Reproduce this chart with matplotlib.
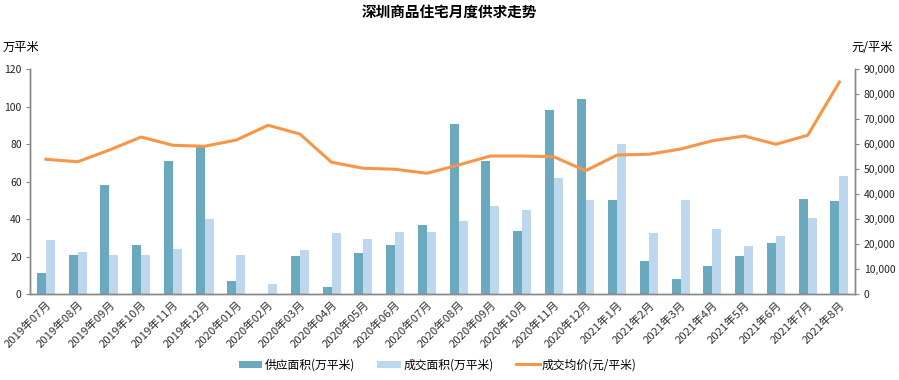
import matplotlib.pyplot as plt
from matplotlib.ticker import FuncFormatter
import numpy as np

plt.rcParams['font.family'] = ['Noto Sans CJK SC', 'DejaVu Sans']

# months on the x axis
months = ['2019年07月', '2019年08月', '2019年09月', '2019年10月', '2019年11月', '2019年12月',
          '2020年01月', '2020年02月', '2020年03月', '2020年04月', '2020年05月', '2020年06月',
          '2020年07月', '2020年08月', '2020年09月', '2020年10月', '2020年11月', '2020年12月',
          '2021年1月', '2021年2月', '2021年3月', '2021年4月', '2021年5月', '2021年6月',
          '2021年7月', '2021年8月']

# supply area (10k m2)
supply = [11.2, 20.8, 58.2, 26.2, 71, 79, 7, 0, 20.5, 3.5, 22, 26.3, 37, 90.7,
          71, 33.7, 98, 104, 50, 17.6, 8, 15, 20.4, 27.3, 50.8, 49.7]

# transaction area (10k m2)
deal = [28.8, 22.4, 20.9, 20.9, 24, 40, 20.9, 5.3, 23.5, 32.5, 29.4, 33.2, 33.2, 38.9,
        47, 44.8, 61.9, 50, 80, 32.5, 50, 34.8, 25.6, 30.7, 40.5, 63]

# average price (yuan/m2)
price = [53900, 52900, 57600, 62800, 59500, 59100, 61600, 67500, 64000, 52700, 50300, 49900,
         48300, 51600, 55200, 55200, 54900, 49300, 55600, 55900, 58000, 61300, 63200, 59900,
         63500, 84800]

c_supply = '#6BA9BF'
c_deal = '#BDD7EE'
c_price = '#F79646'

fig = plt.figure(figsize=(8.99, 3.80), dpi=100)
ax = fig.add_axes([0.0334, 0.2263, 0.918, 0.5921])
ax2 = ax.twinx()

x = np.arange(len(months))
w = 0.283
ax.bar(x - w / 2, supply, width=w, color=c_supply, label='供应面积(万平米)')
ax.bar(x + w / 2, deal, width=w, color=c_deal, label='成交面积(万平米)')
ax2.plot(x, price, color=c_price, lw=2.2, label='成交均价(元/平米)')

ax.set_xlim(-0.5, len(months) - 0.5)
ax.set_ylim(0, 120)
ax.set_yticks(range(0, 121, 20))
ax2.set_ylim(0, 90000)
ax2.set_yticks(range(0, 90001, 10000))
ax2.yaxis.set_major_formatter(FuncFormatter(lambda v, p: f'{int(v):,}'))

ax.set_xticks(x)
ax.set_xticklabels(months, rotation=45, ha='right', rotation_mode='anchor', fontsize=8.2, color='#333333')
ax.tick_params(axis='x', length=0, pad=4)
ax.tick_params(axis='y', labelsize=7.5, color='#888888', length=3, pad=3, labelcolor='#222222')
ax2.tick_params(axis='y', labelsize=7.5, color='#888888', length=3, pad=3, labelcolor='#222222')

for a in (ax, ax2):
    a.spines['top'].set_visible(False)
    for s in ('left', 'right', 'bottom'):
        a.spines[s].set_color('#888888')
        a.spines[s].set_linewidth(1)

fig.text(0.5, 0.968, '深圳商品住宅月度供求走势', ha='center', va='center', fontsize=10.5, fontweight='bold')
fig.text(0.003, 0.876, '万平米', ha='left', va='center', fontsize=8.8)
fig.text(0.993, 0.876, '元/平米', ha='right', va='center', fontsize=8.8)

h1, l1 = ax.get_legend_handles_labels()
h2, l2 = ax2.get_legend_handles_labels()
fig.legend(h1 + h2, l1 + l2, loc='center', bbox_to_anchor=(0.487, 0.04), ncol=3, frameon=False,
           fontsize=8.5, handlelength=2.0, handleheight=0.55, columnspacing=1.9, handletextpad=0.2)

fig.savefig('out.png', dpi=100)
